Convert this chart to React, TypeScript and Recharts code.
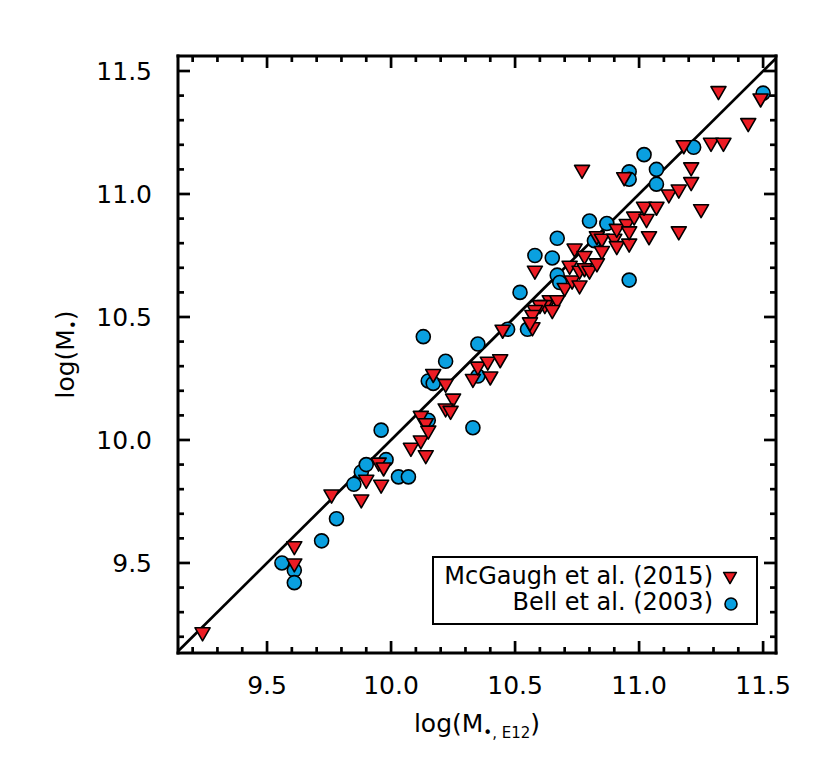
import React from "react";
import {
  ScatterChart,
  Scatter,
  XAxis,
  YAxis,
  ReferenceLine,
  Legend,
} from "recharts";

const FONT = "'DejaVu Sans', sans-serif";
const RED = "#ED1C24";
const BLUE = "#0AA0E0";

// McGaugh et al. (2015)
const mcgaughX = [
  9.24, 9.61, 9.61, 9.76, 9.88, 9.9, 9.95, 9.97, 9.96, 10.08, 10.12, 10.14, 10.12,
  10.14, 10.15, 10.17, 10.22, 10.25, 10.22, 10.24, 10.33, 10.35, 10.39, 10.4, 10.44,
  10.45, 10.57, 10.64, 10.67, 10.62, 10.6, 10.65, 10.58, 10.57, 10.56, 10.58, 10.7,
  10.72, 10.73, 10.74, 10.76, 10.76, 10.78, 10.78, 10.8, 10.83, 10.85, 10.85, 10.83,
  10.77, 10.9, 10.91, 10.91, 10.96, 10.95, 10.96, 10.98, 11.03, 11.04, 11.02, 11.07,
  11.12, 11.16, 11.16, 11.25, 10.94, 11.21, 11.21, 11.18, 11.29, 11.34, 11.32, 11.44,
  11.49,
];
const mcgaughY = [
  9.21, 9.56, 9.49, 9.77, 9.75, 9.83, 9.9, 9.88, 9.81, 9.96, 9.99, 9.93, 10.09,
  10.06, 10.03, 10.26, 10.22, 10.16, 10.12, 10.11, 10.24, 10.29, 10.31, 10.25, 10.32,
  10.44, 10.45, 10.56, 10.56, 10.54, 10.54, 10.52, 10.52, 10.5, 10.47, 10.68, 10.61,
  10.7, 10.64, 10.77, 10.68, 10.62, 10.74, 10.69, 10.68, 10.82, 10.81, 10.76, 10.71,
  11.09, 10.81, 10.78, 10.85, 10.79, 10.87, 10.84, 10.9, 10.89, 10.82, 10.94, 10.94,
  10.99, 11.01, 10.84, 10.93, 11.06, 11.1, 11.04, 11.19, 11.2, 11.2, 11.41, 11.28,
  11.38,
];

// Bell et al. (2003)
const bellX = [
  9.56, 9.61, 9.61, 9.72, 9.78, 9.85, 9.88, 9.9, 9.98, 9.96, 10.03, 10.07, 10.15,
  10.33, 10.15, 10.17, 10.13, 10.22, 10.35, 10.35, 10.47, 10.55, 10.52, 10.58, 10.65,
  10.67, 10.67, 10.68, 10.8, 10.87, 10.82, 10.96, 10.96, 10.96, 11.02, 11.07, 11.07,
  11.22, 11.5,
];
const bellY = [
  9.5, 9.47, 9.42, 9.59, 9.68, 9.82, 9.87, 9.9, 9.92, 10.04, 9.85, 9.85, 10.08,
  10.05, 10.24, 10.23, 10.42, 10.32, 10.39, 10.26, 10.45, 10.45, 10.6, 10.75, 10.74,
  10.82, 10.67, 10.64, 10.89, 10.88, 10.81, 10.65, 11.09, 11.06, 11.16, 11.1, 11.04,
  11.19, 11.41,
];

const seriesNames = ["McGaugh et al. (2015)", "Bell et al. (2003)"];

const ticks = [
  9.2, 9.3, 9.4, 9.5, 9.6, 9.7, 9.8, 9.9, 10.0, 10.1, 10.2, 10.3, 10.4, 10.5, 10.6,
  10.7, 10.8, 10.9, 11.0, 11.1, 11.2, 11.3, 11.4, 11.5,
];

const X_DOMAIN: [number, number] = [9.141, 11.552];
const Y_DOMAIN: [number, number] = [9.134, 11.561];

const mcgaughData = mcgaughX.map((x, i) => ({ x, y: mcgaughY[i] }));
const bellData = bellX.map((x, i) => ({ x, y: bellY[i] }));

const isMajor = (v: number) => Math.abs(v * 2 - Math.round(v * 2)) < 1e-6;
const tickLen = (v: number) => (isMajor(v) ? 12 : 6);
const TICK_W = 2.7;
const AXIS_LINE = { stroke: "#000", strokeWidth: 3, strokeLinecap: "square" };

const BottomTick = ({ x, y, payload }: any) => (
  <g>
    <line x1={x} y1={y} x2={x} y2={y - tickLen(payload.value)} stroke="#000" strokeWidth={TICK_W} />
    {isMajor(payload.value) && (
      <text x={x} y={y + 41} textAnchor="middle" fontSize={25} fontFamily={FONT} fill="#000">
        {payload.value.toFixed(1)}
      </text>
    )}
  </g>
);

const TopTick = ({ x, y, payload }: any) => (
  <line x1={x} y1={y} x2={x} y2={y + tickLen(payload.value)} stroke="#000" strokeWidth={TICK_W} />
);

const LeftTick = ({ x, y, payload }: any) => (
  <g>
    <line x1={x} y1={y} x2={x + tickLen(payload.value)} y2={y} stroke="#000" strokeWidth={TICK_W} />
    {isMajor(payload.value) && (
      <text x={x - 26} y={y + 9} textAnchor="end" fontSize={25} fontFamily={FONT} fill="#000">
        {payload.value.toFixed(1)}
      </text>
    )}
  </g>
);

const RightTick = ({ x, y, payload }: any) => (
  <line x1={x} y1={y} x2={x - tickLen(payload.value)} y2={y} stroke="#000" strokeWidth={TICK_W} />
);

const Triangle = ({ cx, cy, s = 1 }: any) => (
  <path
    d={`M${cx - 7.5 * s},${cy - 6.5 * s} L${cx + 7.5 * s},${cy - 6.5 * s} L${cx},${cy + 6.5 * s} Z`}
    fill={RED}
    stroke="#000"
    strokeWidth={1.6}
    strokeLinejoin="round"
  />
);

const Dot = ({ cx, cy, r = 7 }: any) => (
  <circle cx={cx} cy={cy} r={r} fill={BLUE} stroke="#000" strokeWidth={1.6} />
);

const XTitle = ({ viewBox }: any) => (
  <text
    x={viewBox.x + viewBox.width / 2}
    y={viewBox.y + 79}
    textAnchor="middle"
    fontSize={25}
    fontFamily={FONT}
    fill="#000"
  >
    log(M
    <tspan dy={6} fontSize={15}>
      •, E12
    </tspan>
    <tspan dy={-6}>)</tspan>
  </text>
);

const YTitle = ({ viewBox }: any) => {
  const cx = viewBox.x - 103;
  const cy = viewBox.y + viewBox.height / 2;
  return (
    <text
      x={cx}
      y={cy}
      transform={`rotate(-90 ${cx} ${cy})`}
      textAnchor="middle"
      fontSize={25}
      fontFamily={FONT}
      fill="#000"
    >
      log(M
      <tspan dy={5} fontSize={15}>
        •
      </tspan>
      <tspan dy={-5}>)</tspan>
    </text>
  );
};

const LegendBox = () => (
  <div
    style={{
      position: "relative",
      width: 326,
      height: 69,
      border: "2.5px solid #000",
      boxSizing: "border-box",
      background: "#fff",
      fontFamily: FONT,
      fontSize: 24,
      color: "#000",
    }}
  >
    {seriesNames.map((name, i) => (
      <div
        key={name}
        style={{
          position: "absolute",
          right: 43,
          top: 5 + i * 26,
          lineHeight: "26px",
          whiteSpace: "nowrap",
        }}
      >
        {name}
      </div>
    ))}
    <svg style={{ position: "absolute", left: 286, top: 10 }} width={20} height={20}>
      <Triangle cx={10} cy={10} s={0.85} />
    </svg>
    <svg style={{ position: "absolute", left: 287, top: 36 }} width={20} height={20}>
      <Dot cx={10} cy={10} r={6} />
    </svg>
  </div>
);

export default function App() {
  return (
    <ScatterChart
      width={814}
      height={751}
      margin={{ top: 47, right: 45, bottom: 105, left: 169 }}
    >
      <XAxis
        xAxisId="bottom"
        orientation="bottom"
        type="number"
        dataKey="x"
        domain={X_DOMAIN}
        ticks={ticks}
        interval={0}
        allowDataOverflow
        height={1}
        tickSize={0}
        tickMargin={0}
        tick={<BottomTick />}
        axisLine={AXIS_LINE}
        label={<XTitle />}
      />
      <XAxis
        xAxisId="top"
        orientation="top"
        type="number"
        dataKey="x"
        domain={X_DOMAIN}
        ticks={ticks}
        interval={0}
        allowDataOverflow
        height={1}
        tickSize={0}
        tickMargin={0}
        tick={<TopTick />}
        axisLine={AXIS_LINE}
      />
      <YAxis
        yAxisId="left"
        orientation="left"
        type="number"
        dataKey="y"
        domain={Y_DOMAIN}
        ticks={ticks}
        interval={0}
        allowDataOverflow
        width={1}
        tickSize={0}
        tickMargin={0}
        tick={<LeftTick />}
        axisLine={AXIS_LINE}
        label={<YTitle />}
      />
      <YAxis
        yAxisId="right"
        orientation="right"
        type="number"
        dataKey="y"
        domain={Y_DOMAIN}
        ticks={ticks}
        interval={0}
        allowDataOverflow
        width={1}
        tickSize={0}
        tickMargin={0}
        tick={<RightTick />}
        axisLine={AXIS_LINE}
      />
      <ReferenceLine
        xAxisId="bottom"
        yAxisId="left"
        segment={[
          { x: X_DOMAIN[0], y: X_DOMAIN[0] },
          { x: X_DOMAIN[1], y: X_DOMAIN[1] },
        ]}
        stroke="#000"
        strokeWidth={2.7}
      />
      <Scatter
        xAxisId="bottom"
        yAxisId="left"
        name={seriesNames[1]}
        data={bellData}
        isAnimationActive={false}
        shape={(p: any) => <Dot cx={p.cx} cy={p.cy} />}
      />
      <Scatter
        xAxisId="bottom"
        yAxisId="left"
        name={seriesNames[0]}
        data={mcgaughData}
        isAnimationActive={false}
        shape={(p: any) => <Triangle cx={p.cx} cy={p.cy} />}
      />
      <Legend
        layout="vertical"
        align="center"
        verticalAlign="middle"
        wrapperStyle={{ left: 424, top: 548, width: 326, height: 69 }}
        content={() => <LegendBox />}
      />
    </ScatterChart>
  );
}
